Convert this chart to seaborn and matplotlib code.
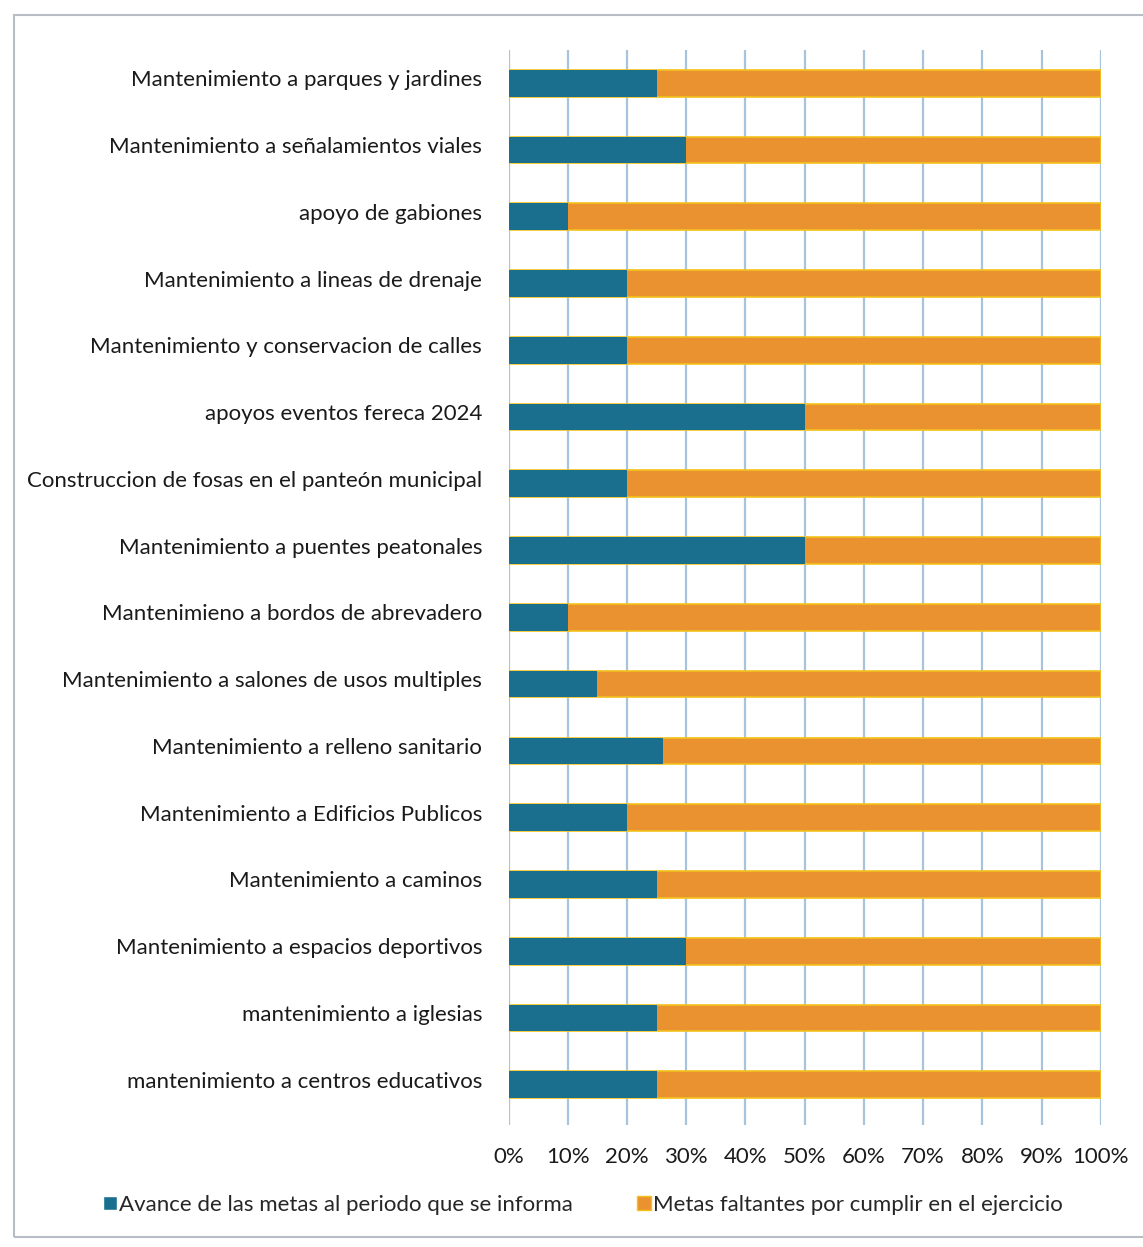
import matplotlib
matplotlib.use("Agg")
import matplotlib.pyplot as plt
import matplotlib.transforms as mtransforms
import seaborn as sns
import pandas as pd
from matplotlib.patches import Rectangle, Patch
from matplotlib.ticker import PercentFormatter

categories = [
    "Mantenimiento a parques y jardines",
    "Mantenimiento a señalamientos viales",
    "apoyo de gabiones",
    "Mantenimiento a lineas de drenaje",
    "Mantenimiento y conservacion de calles",
    "apoyos eventos fereca 2024",
    "Construccion de fosas en el panteón municipal",
    "Mantenimiento a puentes peatonales",
    "Mantenimieno a bordos de abrevadero",
    "Mantenimiento a salones de usos multiples",
    "Mantenimiento a relleno sanitario",
    "Mantenimiento a Edificios Publicos",
    "Mantenimiento a caminos",
    "Mantenimiento a espacios deportivos",
    "mantenimiento a iglesias",
    "mantenimiento a centros educativos",
]
avance = [25, 30, 10, 20, 20, 50, 20, 50, 10, 15, 26, 20, 25, 30, 25, 25]
faltantes = [100 - a for a in avance]
series_names = ["Avance de las metas al periodo que se informa",
                "Metas faltantes por cumplir en el ejercicio"]
tick_values = list(range(0, 101, 10))

df = pd.DataFrame({"cat": categories, "avance": avance, "faltantes": faltantes})
df["total"] = df["avance"] + df["faltantes"]

sns.set_theme(style="white")
plt.rcParams["font.family"] = ["Lato", "DejaVu Sans"]

BLUE = "#1b6f8e"
ORANGE = "#e9922f"
EDGE = "#f3c21a"
GRID = "#a8c3dc"

fig = plt.figure(figsize=(11.43, 12.47), dpi=100)
ax = fig.add_axes([0.445, 0.098, 0.518, 0.862])

sns.barplot(data=df, y="cat", x="total", orient="h", color=ORANGE,
            width=0.4, ax=ax, edgecolor=EDGE, linewidth=1.2, saturation=1)
sns.barplot(data=df, y="cat", x="avance", orient="h", color=BLUE,
            width=0.4, ax=ax, linewidth=0, saturation=1)

ax.set_xlim(0, 100)
ax.set_xticks(tick_values)
ax.xaxis.set_major_formatter(PercentFormatter(decimals=0))
ax.set_xlabel("")
ax.set_ylabel("")
ax.grid(axis="x", color=GRID, linewidth=1.6)
ax.set_axisbelow(True)
for s in ax.spines.values():
    s.set_visible(False)
ax.tick_params(axis="y", labelsize=16, length=0, pad=19, colors="#1a1a1a")
ax.tick_params(axis="x", labelsize=16, length=0, pad=16, colors="#1a1a1a")
ax.set_ylim(15.6, -0.5)
offset = mtransforms.ScaledTranslation(0, 5 / 100, fig.dpi_scale_trans)
for lbl in ax.get_yticklabels():
    lbl.set_transform(lbl.get_transform() + offset)

handles = [Patch(facecolor=BLUE, label=series_names[0]),
           Patch(facecolor=ORANGE, edgecolor=EDGE, label=series_names[1])]
fig.legend(handles=handles, loc="center", bbox_to_anchor=(0.51, 0.034), ncol=2,
           frameon=False, fontsize=16, handlelength=0.6, handleheight=0.6,
           handletextpad=0.1, columnspacing=2.9)

fig.patches.append(Rectangle((0.012, 0.008), 0.99, 0.98, transform=fig.transFigure,
                             fill=False, edgecolor="#b8bcc4", linewidth=1.5))

fig.savefig("out.png", dpi=100, facecolor="white")
